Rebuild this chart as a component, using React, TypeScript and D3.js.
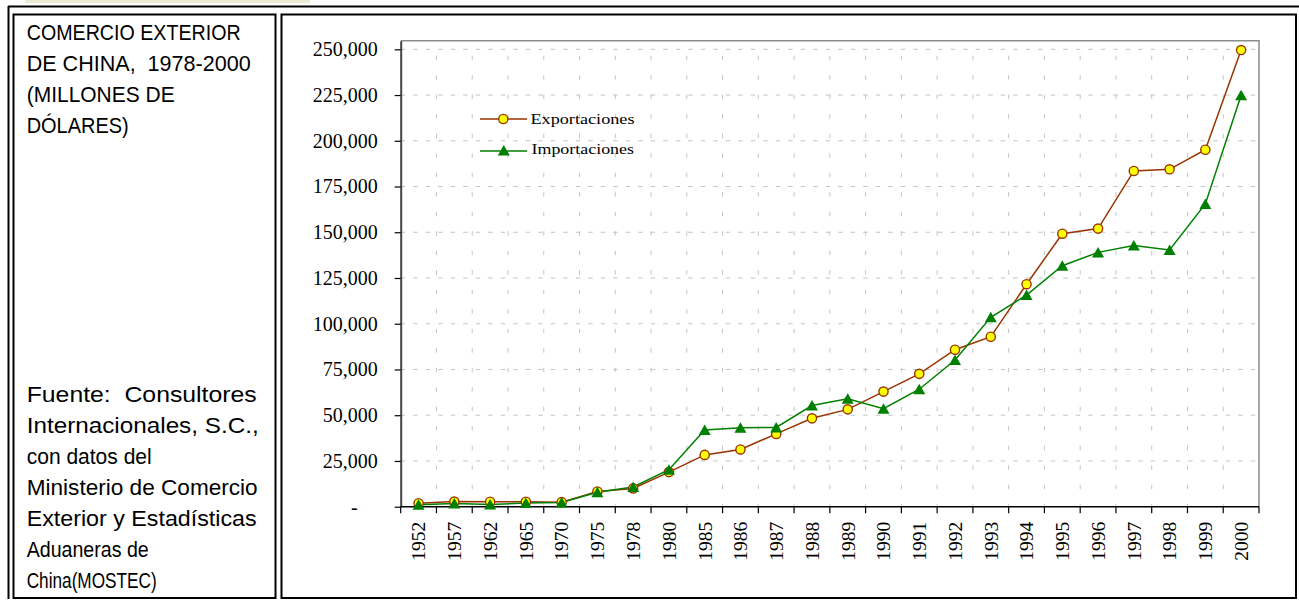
import * as d3 from "d3";
import React from "react";

// categorías (años) del eje X
const years = [
  "1952", "1957", "1962", "1965", "1970", "1975", "1978", "1980",
  "1985", "1986", "1987", "1988", "1989", "1990", "1991", "1992",
  "1993", "1994", "1995", "1996", "1997", "1998", "1999", "2000",
];

// millones de dólares
const exportaciones = [
  1900, 2800, 2700, 2700, 2500, 8300, 10000, 18900,
  28300, 31300, 39800, 48300, 53200, 62900, 72600, 85800,
  92900, 121600, 149200, 152000, 183500, 184400, 195100, 249600,
];

const importaciones = [
  1000, 1800, 1200, 2000, 2300, 7900, 10800, 20200,
  41900, 43200, 43300, 55300, 59000, 53600, 64200, 80200,
  103500, 115700, 131700, 139000, 142700, 140300, 165500, 224900,
];

const yTicks = [0, 25000, 50000, 75000, 100000, 125000, 150000, 175000, 200000, 225000, 250000];

const tituloLineas = [
  { text: "COMERCIO EXTERIOR", w: 214 },
  { text: "DE CHINA,  1978-2000", w: 224 },
  { text: "(MILLONES DE", w: 148 },
  { text: "DÓLARES)", w: 102 },
];

const fuenteLineas = [
  { text: "Fuente:  Consultores", w: 230 },
  { text: "Internacionales, S.C.,", w: 232 },
  { text: "con datos del", w: 125 },
  { text: "Ministerio de Comercio", w: 231 },
  { text: "Exterior y Estadísticas", w: 230 },
  { text: "Aduaneras de", w: 122 },
  { text: "China(MOSTEC)", w: 130 },
];

const EXP_COLOR = "#993300";
const IMP_COLOR = "#008000";

export default function App() {
  const ref = React.useRef<SVGSVGElement>(null);

  React.useEffect(() => {
    if (!ref.current) return;
    const svg = d3.select(ref.current);
    svg.selectAll("*").remove();

    const left = 400.7;
    const right = 1259;
    const top = 40.7;
    const bottom = 506.7;

    // marcos
    svg.append("rect").attr("x", 25).attr("y", 0).attr("width", 285).attr("height", 3).attr("fill", "#efe9cf");
    const frame = svg.append("g").attr("fill", "none").attr("stroke", "#000").attr("stroke-width", 2);
    frame.append("line").attr("x1", 8).attr("x2", 1299).attr("y1", 6.5).attr("y2", 6.5);
    frame.append("line").attr("x1", 8.5).attr("x2", 8.5).attr("y1", 6).attr("y2", 599);
    frame.append("rect").attr("x", 13.5).attr("y", 14.5).attr("width", 262).attr("height", 583.5);
    frame.append("rect").attr("x", 281.5).attr("y", 14.5).attr("width", 1014.5).attr("height", 583.5);

    // textos del panel izquierdo
    const sans = '"Liberation Sans Narrow", "Liberation Sans", Arial, sans-serif';
    const panel = (lineas: { text: string; w: number }[], y0: number, step: number) =>
      svg
        .append("g")
        .selectAll("text")
        .data(lineas)
        .enter()
        .append("text")
        .attr("x", 26.7)
        .attr("y", (_, i) => y0 + i * step)
        .attr("font-family", sans)
        .attr("font-size", 22.5)
        .attr("textLength", (d) => d.w)
        .attr("lengthAdjust", "spacingAndGlyphs")
        .style("white-space", "pre")
        .text((d) => d.text);
    panel(tituloLineas, 39.5, 31.3);
    panel(fuenteLineas, 401.7, 31.1);

    // escalas
    const x = d3.scaleBand().domain(years).range([left, right]);
    const y = d3.scaleLinear().domain([0, 254700]).range([bottom, top]);
    const cx = (d: string) => (x(d) || 0) + x.bandwidth() / 2;

    // rejilla
    const grid = svg.append("g").attr("stroke", "#c4c4c4").attr("stroke-width", 1);
    grid
      .selectAll("line.h")
      .data(yTicks.slice(1))
      .enter()
      .append("line")
      .attr("x1", left)
      .attr("x2", right)
      .attr("y1", (d) => y(d))
      .attr("y2", (d) => y(d))
      .attr("stroke-dasharray", "4.5,8");
    grid
      .selectAll("line.v")
      .data(years.slice(1))
      .enter()
      .append("line")
      .attr("x1", (d) => x(d) || 0)
      .attr("x2", (d) => x(d) || 0)
      .attr("y1", top)
      .attr("y2", bottom)
      .attr("stroke-dasharray", "0,15,4.5,0");

    // borde del área de trazado
    svg
      .append("path")
      .attr("d", `M${left},${top}H${right}V${bottom}`)
      .attr("fill", "none")
      .attr("stroke", "#8c8c8c")
      .attr("stroke-width", 1.5);

    // eje Y
    const yAxis = svg
      .append("g")
      .attr("transform", `translate(${left},0)`)
      .call(
        d3
          .axisLeft(y)
          .tickValues(yTicks)
          .tickSize(6)
          .tickSizeOuter(0)
          .tickPadding(17)
          .tickFormat((d) => (+d === 0 ? "-" : d3.format(",")(+d)))
      );
    yAxis.select(".domain").attr("stroke", "#444").attr("stroke-width", 2);
    yAxis.selectAll(".tick line").attr("stroke", "#000").attr("stroke-width", 1.2);
    yAxis
      .selectAll(".tick text")
      .attr("font-family", '"Liberation Serif", "Times New Roman", serif')
      .attr("font-size", 20)
      .attr("fill", "#000")
      .attr("x", (d) => (+d === 0 ? -43 : -23));

    // eje X
    const xAxis = svg.append("g");
    xAxis
      .append("line")
      .attr("x1", left)
      .attr("x2", right)
      .attr("y1", bottom)
      .attr("y2", bottom)
      .attr("stroke", "#000")
      .attr("stroke-width", 1.6);
    xAxis
      .selectAll("line.tick")
      .data([...years.map((d) => x(d) || 0), right])
      .enter()
      .append("line")
      .attr("x1", (d) => d)
      .attr("x2", (d) => d)
      .attr("y1", bottom)
      .attr("y2", bottom + 6.5)
      .attr("stroke", "#000")
      .attr("stroke-width", 1.2);
    xAxis
      .selectAll("text")
      .data(years)
      .enter()
      .append("text")
      .attr("transform", (d) => `translate(${cx(d)},${bottom + 15}) rotate(-90)`)
      .attr("text-anchor", "end")
      .attr("dy", "0.35em")
      .attr("font-family", '"Liberation Serif", "Times New Roman", serif')
      .attr("font-size", 19.5)
      .attr("fill", "#000")
      .text((d) => d);

    const line = d3
      .line<number>()
      .x((_, i) => cx(years[i]))
      .y((d) => y(d));

    const tri = (px: number, py: number) =>
      `M${px},${py - 5.5}L${px + 6},${py + 5}L${px - 6},${py + 5}Z`;

    // exportaciones
    svg
      .append("path")
      .datum(exportaciones)
      .attr("fill", "none")
      .attr("stroke", EXP_COLOR)
      .attr("stroke-width", 1.5)
      .attr("d", line);

    // importaciones
    svg
      .append("path")
      .datum(importaciones)
      .attr("fill", "none")
      .attr("stroke", IMP_COLOR)
      .attr("stroke-width", 1.5)
      .attr("d", line);

    svg
      .append("g")
      .selectAll("circle")
      .data(exportaciones)
      .enter()
      .append("circle")
      .attr("cx", (_, i) => cx(years[i]))
      .attr("cy", (d) => y(d))
      .attr("r", 4.6)
      .attr("fill", "#ffff00")
      .attr("stroke", EXP_COLOR)
      .attr("stroke-width", 1.4);

    svg
      .append("g")
      .selectAll("path")
      .data(importaciones)
      .enter()
      .append("path")
      .attr("d", (d, i) => tri(cx(years[i]), y(d)))
      .attr("fill", IMP_COLOR);

    // leyenda
    const legend = svg.append("g");
    const serifLeg = '"Liberation Serif", "Times New Roman", serif';
    legend.append("line").attr("x1", 480).attr("x2", 527).attr("y1", 119).attr("y2", 119)
      .attr("stroke", EXP_COLOR).attr("stroke-width", 1.5);
    legend.append("circle").attr("cx", 503.3).attr("cy", 119).attr("r", 4.6)
      .attr("fill", "#ffff00").attr("stroke", EXP_COLOR).attr("stroke-width", 1.4);
    legend.append("text").attr("x", 530.5).attr("y", 123.5)
      .attr("font-family", serifLeg).attr("font-size", 14)
      .attr("textLength", 104).attr("lengthAdjust", "spacingAndGlyphs")
      .text("Exportaciones");
    legend.append("line").attr("x1", 480).attr("x2", 527).attr("y1", 151).attr("y2", 151)
      .attr("stroke", IMP_COLOR).attr("stroke-width", 1.5);
    legend.append("path").attr("d", tri(503.8, 150.5)).attr("fill", IMP_COLOR);
    legend.append("text").attr("x", 531.5).attr("y", 153.5)
      .attr("font-family", serifLeg).attr("font-size", 14)
      .attr("textLength", 102.5).attr("lengthAdjust", "spacingAndGlyphs")
      .text("Importaciones");
  }, []);

  return (
    <svg
      ref={ref}
      width={1299}
      height={600}
      style={{ position: "absolute", left: 0, top: 0, background: "#fff" }}
    />
  );
}
